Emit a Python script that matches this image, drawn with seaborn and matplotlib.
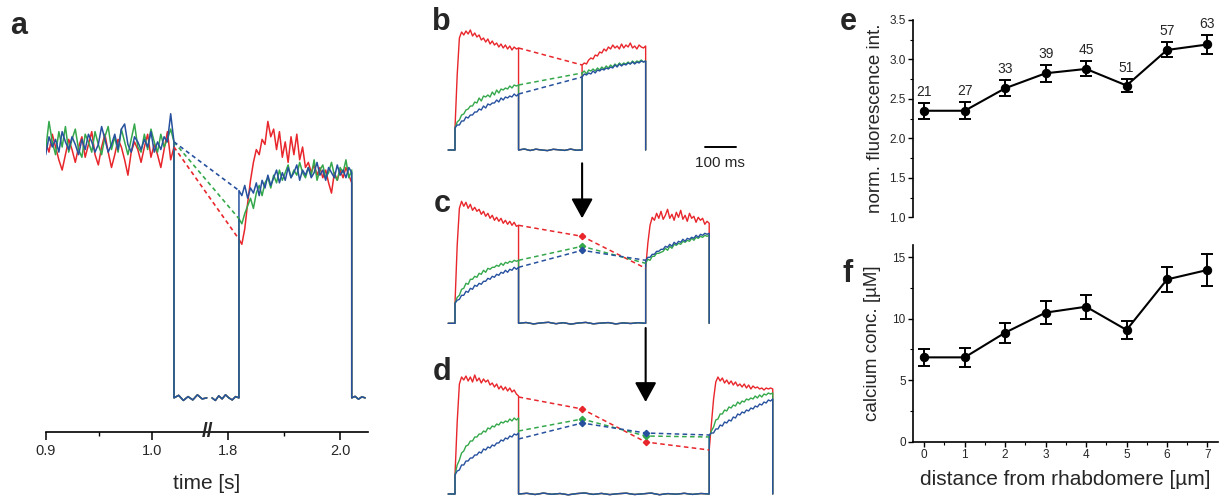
import numpy as np
import pandas as pd
import matplotlib
matplotlib.use("Agg")
import matplotlib.pyplot as plt
import seaborn as sns
from matplotlib.ticker import MultipleLocator, FixedLocator

sns.set_style("white")
plt.rcParams["font.family"] = ["Liberation Sans", "DejaVu Sans"]

RED, GREEN, BLUE = "#e8262b", "#34a84b", "#27519e"

# ------------------------------------------------------------------ panel a data
a_ticks = [0.9, 1.0, 1.8, 2.0]
a_tick_labels = ["0.9", "1.0", "1.8", "2.0"]
a_minor = [0.95, 1.9]
a_left_span = (0.900, 1.021)     # first light window (s)
a_right_span = (1.820, 2.021)    # second light window (s)
a_off_left = (1.021, 1.052)
a_off_right = (1.772, 1.820)
a_tail = (2.021, 2.045)

a_red_left = [1.00, 0.96, 1.03, 0.98, 0.93, 0.89, 0.95, 1.01, 0.97, 0.92, 0.98, 1.02, 0.94, 0.99,
              1.04, 0.95, 0.91, 0.98, 1.03, 0.96, 0.90, 0.95, 1.01, 0.98, 0.93, 0.87, 0.96, 1.00,
              0.97, 0.92, 0.98, 1.03, 0.94, 0.99, 0.95, 0.90, 0.97, 1.04, 0.93, 0.98]
a_green_left = [0.97, 1.08, 1.00, 0.95, 1.04, 0.98, 1.06, 0.96, 1.01, 1.05, 0.97, 0.94, 1.03, 1.00,
                0.96, 1.04, 0.99, 0.95, 1.02, 1.06, 0.97, 1.02, 0.96, 1.05, 1.00, 0.95, 1.01, 1.07,
                0.98, 0.96, 1.03, 0.97, 1.05, 1.00, 0.96, 1.03, 0.98, 1.01, 1.05, 1.00]
a_blue_left = [0.95, 1.02, 0.98, 1.01, 0.96, 1.04, 1.00, 0.97, 1.02, 0.99, 0.95, 1.01, 0.97, 1.03,
               1.00, 0.96, 0.99, 1.06, 1.01, 0.96, 0.99, 1.03, 0.97, 1.05, 1.07, 0.99, 0.96, 1.02,
               1.00, 0.97, 1.01, 0.98, 1.04, 0.96, 1.00, 0.97, 1.02, 1.00, 1.11, 1.00]
a_red_right = [0.62, 0.60, 0.66, 0.76, 0.85, 0.92, 0.97, 0.95, 1.01, 0.99, 1.08, 1.02, 1.05, 0.97,
               1.04, 0.94, 1.00, 0.92, 1.02, 0.95, 1.03, 0.93, 0.98, 0.90, 0.92, 0.88, 0.91, 0.87,
               0.90, 0.86, 0.89, 0.84, 0.80, 0.88, 0.85, 0.89, 0.86, 0.90, 0.87, 0.84]
a_green_right = [0.70, 0.68, 0.72, 0.75, 0.78, 0.74, 0.80, 0.83, 0.79, 0.84, 0.86, 0.82, 0.87, 0.84,
                 0.89, 0.85, 0.88, 0.91, 0.86, 0.89, 0.87, 0.92, 0.88, 0.86, 0.90, 0.87, 0.93, 0.85,
                 0.89, 0.91, 0.86, 0.88, 0.92, 0.87, 0.85, 0.90, 0.88, 0.93, 0.86, 0.89]
a_blue_right = [0.81, 0.79, 0.83, 0.78, 0.82, 0.80, 0.84, 0.79, 0.85, 0.82, 0.87, 0.83, 0.86, 0.89,
                0.84, 0.88, 0.85, 0.90, 0.86, 0.88, 0.91, 0.85, 0.89, 0.87, 0.90, 0.86, 0.88, 0.92,
                0.87, 0.89, 0.85, 0.90, 0.88, 0.86, 0.91, 0.87, 0.89, 0.86, 0.90, 0.88]
a_off_left_v = [0.0, 0.010, -0.010, 0.005, -0.008, 0.012, -0.004, 0.0]
a_off_right_v = [0.0, -0.010, 0.008, -0.004, 0.012, 0.0, -0.008, 0.005, 0.0]
a_tail_v = [0.0, 0.006, -0.005, 0.004, 0.0]

# ------------------------------------------------------------------ panels b-d data (ms)
WIN = 205.0
PRE = -22.0
b_t2, c_t2, d_t2 = 410.0, 615.0, 820.0

b_red_on1 = [0.22, 0.75, 1.12, 1.18, 1.15, 1.19, 1.16, 1.20, 1.14, 1.17, 1.13, 1.15, 1.10, 1.12, 1.08,
             1.11, 1.06, 1.09, 1.05, 1.07, 1.03, 1.06, 1.02, 1.05, 1.01, 1.04, 1.00, 1.03, 1.01, 1.02]
b_green_on1 = [0.22, 0.28, 0.30, 0.35, 0.36, 0.40, 0.41, 0.44, 0.44, 0.48, 0.47, 0.52, 0.49, 0.54, 0.53,
               0.55, 0.53, 0.58, 0.55, 0.60, 0.57, 0.61, 0.60, 0.62, 0.61, 0.64, 0.62, 0.65, 0.64, 0.65]
b_blue_on1 = [0.22, 0.25, 0.25, 0.29, 0.29, 0.33, 0.32, 0.35, 0.35, 0.38, 0.38, 0.41, 0.40, 0.44, 0.42,
              0.46, 0.45, 0.47, 0.47, 0.50, 0.48, 0.52, 0.50, 0.53, 0.52, 0.54, 0.53, 0.56, 0.54, 0.56]
b_red_on2 = [0.85, 0.87, 0.86, 0.90, 0.92, 0.91, 0.95, 0.94, 0.98, 0.97, 1.01, 0.99, 1.03, 1.01, 1.05,
             1.02, 1.04, 1.01, 1.06, 1.02, 1.05, 1.03, 1.07, 1.02, 1.04, 1.01, 1.05, 1.03, 1.02, 1.04]
b_green_on2 = [0.77, 0.79, 0.76, 0.80, 0.79, 0.81, 0.79, 0.82, 0.80, 0.83, 0.81, 0.84, 0.82, 0.85, 0.83,
               0.86, 0.84, 0.87, 0.85, 0.87, 0.86, 0.88, 0.86, 0.89, 0.87, 0.89, 0.88, 0.90, 0.88, 0.89]
b_blue_on2 = [0.73, 0.76, 0.75, 0.77, 0.76, 0.79, 0.77, 0.80, 0.79, 0.81, 0.80, 0.82, 0.81, 0.83, 0.82,
              0.85, 0.83, 0.86, 0.84, 0.86, 0.85, 0.87, 0.86, 0.88, 0.86, 0.88, 0.87, 0.89, 0.88, 0.89]
b_off = [0.0, 0.010, -0.005, 0.008, 0.0, -0.006, 0.007, 0.002, -0.004, 0.009, -0.002, 0.0]

c_red_on1 = [0.20, 0.78, 1.15, 1.22, 1.17, 1.21, 1.15, 1.19, 1.13, 1.16, 1.12, 1.14, 1.09, 1.12, 1.07,
             1.10, 1.05, 1.08, 1.03, 1.06, 1.02, 1.05, 1.00, 1.03, 0.99, 1.02, 0.98, 1.01, 0.97, 0.98]
c_green_on1 = [0.20, 0.26, 0.28, 0.34, 0.35, 0.40, 0.39, 0.44, 0.44, 0.47, 0.46, 0.50, 0.49, 0.53, 0.51,
               0.55, 0.54, 0.56, 0.56, 0.58, 0.57, 0.60, 0.58, 0.61, 0.60, 0.62, 0.61, 0.63, 0.62, 0.63]
c_blue_on1 = [0.20, 0.23, 0.24, 0.28, 0.28, 0.32, 0.31, 0.35, 0.34, 0.38, 0.37, 0.40, 0.39, 0.42, 0.42,
              0.45, 0.44, 0.47, 0.46, 0.49, 0.48, 0.51, 0.50, 0.53, 0.51, 0.54, 0.53, 0.56, 0.54, 0.56]
c_red_on2 = [0.55, 0.80, 0.98, 1.06, 1.03, 1.10, 1.05, 1.12, 1.04, 1.08, 1.14, 1.05, 1.09, 1.03, 1.11,
             1.06, 1.13, 1.04, 1.08, 1.02, 1.10, 1.05, 1.07, 1.01, 1.06, 1.03, 1.05, 0.99, 1.02, 1.00]
c_green_on2 = [0.60, 0.64, 0.63, 0.67, 0.67, 0.70, 0.70, 0.71, 0.72, 0.75, 0.73, 0.77, 0.75, 0.79, 0.78,
               0.80, 0.79, 0.82, 0.81, 0.83, 0.82, 0.85, 0.83, 0.86, 0.85, 0.87, 0.86, 0.88, 0.87, 0.88]
c_blue_on2 = [0.63, 0.66, 0.66, 0.69, 0.69, 0.72, 0.72, 0.74, 0.74, 0.77, 0.76, 0.79, 0.77, 0.81, 0.79,
              0.82, 0.81, 0.84, 0.82, 0.85, 0.84, 0.86, 0.85, 0.88, 0.86, 0.89, 0.88, 0.90, 0.89, 0.90]
c_off = [0.0, 0.008, -0.006, 0.004, 0.010, -0.004, 0.006, -0.008, 0.003, 0.009, -0.005, 0.002,
         0.007, -0.006, 0.004, -0.002, 0.006, 0.0]

d_red_on1 = [0.19, 0.72, 1.10, 1.17, 1.14, 1.18, 1.13, 1.17, 1.12, 1.19, 1.13, 1.16, 1.11, 1.15, 1.12,
             1.14, 1.09, 1.11, 1.07, 1.10, 1.05, 1.08, 1.04, 1.07, 1.03, 1.06, 1.02, 1.04, 1.00, 0.98]
d_green_on1 = [0.19, 0.29, 0.34, 0.41, 0.43, 0.48, 0.49, 0.53, 0.53, 0.57, 0.57, 0.60, 0.60, 0.63, 0.62,
               0.66, 0.65, 0.68, 0.67, 0.70, 0.69, 0.72, 0.71, 0.73, 0.72, 0.75, 0.73, 0.76, 0.74, 0.76]
d_blue_on1 = [0.19, 0.23, 0.24, 0.29, 0.29, 0.33, 0.33, 0.36, 0.36, 0.39, 0.39, 0.42, 0.41, 0.45, 0.44,
              0.47, 0.46, 0.49, 0.48, 0.51, 0.51, 0.54, 0.53, 0.56, 0.55, 0.58, 0.57, 0.60, 0.59, 0.61]
d_red_on2 = [0.44, 0.70, 0.95, 1.12, 1.17, 1.13, 1.16, 1.11, 1.14, 1.10, 1.13, 1.09, 1.12, 1.08, 1.10,
             1.07, 1.10, 1.06, 1.09, 1.05, 1.08, 1.06, 1.07, 1.05, 1.06, 1.04, 1.06, 1.05, 1.06, 1.05]
d_green_on2 = [0.57, 0.63, 0.67, 0.74, 0.75, 0.80, 0.80, 0.84, 0.83, 0.87, 0.86, 0.89, 0.88, 0.92, 0.90,
               0.93, 0.92, 0.95, 0.94, 0.96, 0.95, 0.98, 0.96, 0.99, 0.97, 1.00, 0.99, 1.01, 1.00, 1.01]
d_blue_on2 = [0.59, 0.61, 0.61, 0.65, 0.65, 0.69, 0.68, 0.72, 0.71, 0.74, 0.73, 0.77, 0.76, 0.80, 0.79,
              0.82, 0.81, 0.84, 0.83, 0.86, 0.85, 0.88, 0.87, 0.90, 0.89, 0.92, 0.91, 0.94, 0.93, 0.95]
d_off = [0.0, 0.007, -0.005, 0.009, -0.003, 0.005, -0.008, 0.004, 0.010, -0.004, 0.006, -0.006,
         0.003, 0.008, -0.005, 0.002, 0.009, -0.007, 0.004, -0.002, 0.007, -0.004, 0.005, 0.0]

# dashed connectors: knot times and values (interior knots carry markers)
b_knot_t = [205.0, 410.0]
b_red_dash, b_green_dash, b_blue_dash = [1.02, 0.85], [0.65, 0.77], [0.56, 0.73]
c_knot_t = [205.0, 410.0, 615.0]
c_red_dash, c_green_dash, c_blue_dash = [0.98, 0.87, 0.55], [0.63, 0.77, 0.60], [0.56, 0.73, 0.63]
d_knot_t = [205.0, 410.0, 615.0, 820.0]
d_red_dash = [0.97, 0.85, 0.52, 0.44]
d_green_dash = [0.63, 0.75, 0.58, 0.57]
d_blue_dash = [0.55, 0.71, 0.61, 0.59]

# ------------------------------------------------------------------ panels e, f data
distance = [0, 1, 2, 3, 4, 5, 6, 7]
n_cells = [21, 27, 33, 39, 45, 51, 57, 63]
norm_fluo = [2.35, 2.35, 2.635, 2.825, 2.88, 2.67, 3.12, 3.19]
norm_fluo_err = [0.10, 0.11, 0.10, 0.105, 0.095, 0.085, 0.095, 0.12]
calcium = [6.86, 6.86, 8.87, 10.5, 10.98, 9.09, 13.2, 13.97]
calcium_err = [0.68, 0.79, 0.81, 0.94, 0.96, 0.72, 1.04, 1.30]

# ------------------------------------------------------------------ figure
W, H = 1222, 496
fig = plt.figure(figsize=(W / 100, H / 100), dpi=100)


def px_axes(left, top, right, bottom):
    return fig.add_axes([left / W, 1 - bottom / H, (right - left) / W, (bottom - top) / H])


def draw_segments(ax, segs, color, lw=1.0):
    rows = []
    for k, (t, v) in enumerate(segs):
        rows.append(pd.DataFrame({"t": np.asarray(t, float), "v": np.asarray(v, float), "seg": k}))
    df = pd.concat(rows, ignore_index=True)
    sns.lineplot(data=df, x="t", y="v", units="seg", estimator=None, sort=False,
                 color=color, lw=lw, ax=ax, legend=False)


# ---- panel a : broken time axis via a piecewise function scale
B1, B2, EPS = 1.052, 1.764, 0.0007
U1 = (B1 - 0.9) * 1.06


def fwd(t):
    t = np.asarray(t, float)
    return np.where(t <= B1, (t - 0.9) * 1.06,
                    np.where(t >= B2, U1 + EPS + (t - B2) * 0.561, U1 + (t - B1) * EPS / (B2 - B1)))


def inv(u):
    u = np.asarray(u, float)
    return np.where(u <= U1, 0.9 + u / 1.06,
                    np.where(u >= U1 + EPS, B2 + (u - U1 - EPS) / 0.561, B1 + (u - U1) * (B2 - B1) / EPS))


ax_a = px_axes(45.7, 90.7, 368.0, 403.0)
ax_a.set_xscale("function", functions=(fwd, inv))
ax_a.set_xlim(0.9, 2.05)
ax_a.set_ylim(-0.02, 1.2)

for col, lv, rv in [(RED, a_red_left, a_red_right), (GREEN, a_green_left, a_green_right),
                    (BLUE, a_blue_left, a_blue_right)]:
    tl = np.linspace(*a_left_span, len(lv))
    tr = np.linspace(*a_right_span, len(rv))
    t_ol = np.linspace(*a_off_left, len(a_off_left_v))
    t_or = np.linspace(*a_off_right, len(a_off_right_v))
    t_tl = np.linspace(*a_tail, len(a_tail_v))
    seg1 = (np.concatenate([tl, t_ol]), np.concatenate([lv, a_off_left_v]))
    seg2 = (np.concatenate([t_or, tr, t_tl]), np.concatenate([a_off_right_v, rv, a_tail_v]))
    draw_segments(ax_a, [seg1, seg2], col, lw=1.1)

for col, lv, rv in [(RED, a_red_left, a_red_right), (GREEN, a_green_left, a_green_right),
                    (BLUE, a_blue_left, a_blue_right)]:
    ax_a.plot([a_left_span[1], a_right_span[0]], [lv[-1], rv[0]], color=col, lw=1.2,
              ls=(0, (2.5, 2.0)))

for s in ["left", "right", "top"]:
    ax_a.spines[s].set_visible(False)
ax_a.spines["bottom"].set_position(("data", -0.133))
ax_a.spines["bottom"].set_linewidth(1.2)
ax_a.spines["bottom"].set_color("black")
ax_a.set_yticks([])
ax_a.set_xticks(a_ticks, labels=a_tick_labels)
ax_a.xaxis.set_minor_locator(FixedLocator(a_minor))
ax_a.tick_params(axis="x", which="major", direction="out", length=5.5, width=1.1, pad=3,
                 labelsize=10.5, bottom=True, color="black")
ax_a.tick_params(axis="x", which="minor", direction="out", length=3, width=1.0, bottom=True,
                 color="black")
ax_a.set_xlabel("time [s]", fontsize=15, labelpad=12)
ax_a.set_ylabel("")
ax_a.text(1.757, -0.133, "//", ha="center", va="center", fontsize=15, fontweight="bold")

# ---- panels b, c, d
XL = ((445 - 455) / 0.31, (780 - 455) / 0.31)
ax_b = px_axes(445, 20, 780, 160)
ax_c = px_axes(445, 193.3, 780, 333.3)
ax_d = px_axes(445, 364, 780, 496)

panels = [
    (ax_b, (-0.1, 1.3), b_t2, b_off,
     [(RED, b_red_on1, b_red_on2, b_red_dash), (GREEN, b_green_on1, b_green_on2, b_green_dash),
      (BLUE, b_blue_on1, b_blue_on2, b_blue_dash)], b_knot_t),
    (ax_c, (-0.1, 1.3), c_t2, c_off,
     [(RED, c_red_on1, c_red_on2, c_red_dash), (GREEN, c_green_on1, c_green_on2, c_green_dash),
      (BLUE, c_blue_on1, c_blue_on2, c_blue_dash)], c_knot_t),
    (ax_d, (-0.02, 1.3), d_t2, d_off,
     [(RED, d_red_on1, d_red_on2, d_red_dash), (GREEN, d_green_on1, d_green_on2, d_green_dash),
      (BLUE, d_blue_on1, d_blue_on2, d_blue_dash)], d_knot_t),
]

for ax, yl, t2, off_v, series, knots in panels:
    for col, on1, on2, dash in series:
        t_on1 = np.linspace(0.0, WIN, len(on1))
        t_off = np.linspace(WIN, t2, len(off_v))
        t_on2 = np.linspace(t2, t2 + WIN, len(on2))
        t = np.concatenate([[PRE, 0.0], t_on1, t_off, t_on2, [t2 + WIN]])
        v = np.concatenate([[0.0, 0.0], on1, off_v, on2, [0.0]])
        draw_segments(ax, [(t, v)], col, lw=1.0)
    for col, on1, on2, dash in series:
        ax.plot(knots, dash, color=col, lw=1.1, ls=(0, (3.0, 2.2)))
        if len(knots) > 2:
            ax.plot(knots[1:-1], dash[1:-1], ls="none", marker="D", ms=3.2, color=col, mec=col)
    ax.set_xlim(*XL)
    ax.set_ylim(*yl)
    ax.axis("off")

# scale bar (100 ms) in panel b
ax_b.plot([806, 906], [0.033, 0.033], color="black", lw=1.4, clip_on=False)
ax_b.text(856, -0.06, "100 ms", ha="center", va="top", fontsize=11)

# arrows
arrow_kw = dict(arrowstyle="-|>,head_length=0.4,head_width=0.22", color="black", lw=1.5,
                mutation_scale=30, shrinkA=0, shrinkB=0)
ax_c.annotate("", xy=(410, 1.05), xytext=(410, 1.60), arrowprops=arrow_kw, annotation_clip=False)
ax_d.annotate("", xy=(615, 0.92), xytext=(615, 1.66), arrowprops=arrow_kw, annotation_clip=False)

# ---- panels e, f
XLIM_EF = (-0.27, 7.26)
ax_e = px_axes(913.3, 20, 1218, 217.3)
ax_f = px_axes(913.3, 245, 1218, 441.7)

for ax, yv, ye in [(ax_e, norm_fluo, norm_fluo_err), (ax_f, calcium, calcium_err)]:
    ax.errorbar(distance, yv, yerr=ye, fmt="none", ecolor="black", elinewidth=1.4,
                capsize=4.2, capthick=1.4, zorder=2)
    sns.lineplot(x=distance, y=yv, color="black", lw=1.5, marker="o", markersize=6,
                 markeredgecolor="black", ax=ax, zorder=3)
    ax.set_xlim(*XLIM_EF)
    for s in ["right", "top"]:
        ax.spines[s].set_visible(False)
    for s in ["left", "bottom"]:
        ax.spines[s].set_linewidth(1.2)
        ax.spines[s].set_color("black")
    ax.tick_params(axis="both", which="major", direction="out", length=3.5, width=1.0,
                   labelsize=8.5, left=True, bottom=True, pad=2, color="black")
    ax.tick_params(axis="both", which="minor", direction="out", length=2, width=0.8,
                   left=True, bottom=True, color="black")

ax_e.set_ylim(1.0, 3.5)
ax_e.yaxis.set_major_locator(MultipleLocator(0.5))
ax_e.yaxis.set_minor_locator(MultipleLocator(0.25))
ax_e.yaxis.set_major_formatter(matplotlib.ticker.FormatStrFormatter("%.1f"))
ax_e.spines["bottom"].set_visible(False)
ax_e.set_xticks([])
ax_e.set_ylabel("norm. fluorescence int.", fontsize=13.5, labelpad=4)
for x, y, e, n in zip(distance, norm_fluo, norm_fluo_err, n_cells):
    ax_e.annotate(str(n), (x, y + e), xytext=(0, 3), textcoords="offset points",
                  ha="center", va="bottom", fontsize=10)

ax_f.set_ylim(0, 16)
ax_f.yaxis.set_major_locator(FixedLocator([0, 5, 10, 15]))
ax_f.yaxis.set_minor_locator(FixedLocator([2.5, 7.5, 12.5]))
ax_f.set_xticks(distance)
ax_f.xaxis.set_minor_locator(MultipleLocator(0.5))
ax_f.set_ylabel("calcium conc. [µM]", fontsize=13.5, labelpad=8)
ax_f.set_xlabel("distance from rhabdomere [µm]", fontsize=15, labelpad=6)

# ---- panel letters
for letter, x, y in [("a", 19, 34), ("b", 451, 30), ("c", 451, 212), ("d", 451, 380),
                     ("e", 848, 30), ("f", 848, 282)]:
    fig.text(x / W, 1 - y / H, letter, ha="right" if letter in "bcd" else "center",
             va="baseline", fontsize=22, fontweight="bold")

fig.savefig("out.png", dpi=100)
